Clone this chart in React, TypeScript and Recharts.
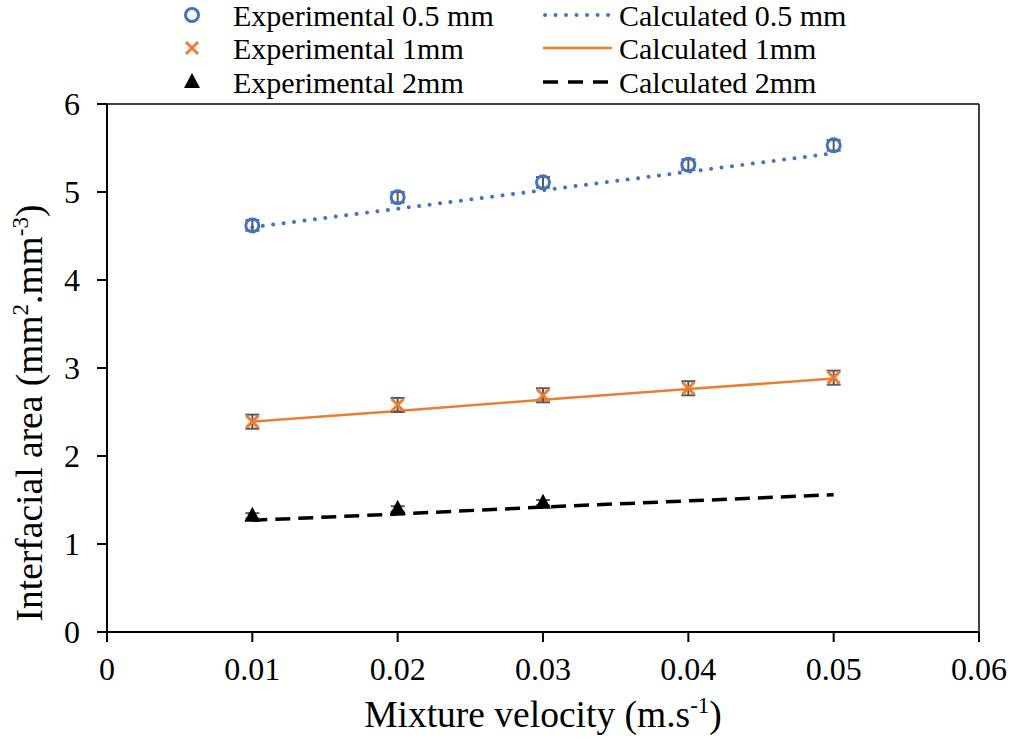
import { ComposedChart, Line, Scatter, XAxis, YAxis, ErrorBar, ReferenceLine } from "recharts";

// mixture velocity (m/s) and interfacial area (mm2/mm3) for the three channel sizes
const velocity = [0.01, 0.02, 0.03, 0.04, 0.05];
const velocity2mm = [0.01, 0.02, 0.03];

const exp05 = [4.62, 4.94, 5.11, 5.31, 5.53];
const err05 = [0.06, 0.06, 0.06, 0.06, 0.06];
const calc05 = [4.6, 4.81, 5.02, 5.23, 5.44];

const exp1 = [2.39, 2.58, 2.69, 2.77, 2.89];
const err1 = [0.08, 0.08, 0.08, 0.08, 0.08];
const calc1 = [2.39, 2.51, 2.64, 2.76, 2.88];

const exp2 = [1.32, 1.4, 1.47];
const err2 = [0.03, 0.03, 0.03];
const calc2 = [1.27, 1.34, 1.42, 1.49, 1.56];

const xTicks = [0, 0.01, 0.02, 0.03, 0.04, 0.05, 0.06];
const yTicks = [0, 1, 2, 3, 4, 5, 6];

const BLUE = "#4472C4";
const ORANGE = "#ED7D31";
const FONT = "'Liberation Serif', 'Times New Roman', serif";

const toRows = (xs: number[], ys: number[], es?: number[]) =>
  xs.map((v, i) => ({ v, a: ys[i], e: es ? es[i] : 0 }));

const exp05Data = toRows(velocity, exp05, err05);
const exp1Data = toRows(velocity, exp1, err1);
const exp2Data = toRows(velocity2mm, exp2, err2);
const calc05Data = toRows(velocity, calc05);
const calc1Data = toRows(velocity, calc1);
const calc2Data = toRows(velocity, calc2);

// marker shapes, shared by the plot and the legend
function CircleMark({ cx, cy }: any) {
  return <circle cx={cx} cy={cy} r={6.5} fill="none" stroke={BLUE} strokeWidth={3} />;
}

function CrossMark({ cx, cy }: any) {
  const s = 6;
  return (
    <g stroke={ORANGE} strokeWidth={3}>
      <line x1={cx - s} y1={cy - s} x2={cx + s} y2={cy + s} />
      <line x1={cx - s} y1={cy + s} x2={cx + s} y2={cy - s} />
    </g>
  );
}

function TriangleMark({ cx, cy }: any) {
  return <path d={`M${cx},${cy - 9} L${cx + 8},${cy + 6} L${cx - 8},${cy + 6} Z`} fill="#000" />;
}

function XTitle({ viewBox }: any) {
  const cx = viewBox ? viewBox.x + viewBox.width / 2 : 543;
  const y = viewBox ? viewBox.y + 95 : 727;
  return (
    <text x={cx} y={y} textAnchor="middle" fontFamily={FONT} fontSize={37.5} fill="#000">
      Mixture velocity (m.s
      <tspan dy={-14} fontSize={23}>-1</tspan>
      <tspan dy={14}>)</tspan>
    </text>
  );
}

function YTitle({ viewBox }: any) {
  const x = 42;
  const cy = viewBox ? viewBox.y + viewBox.height / 2 + 45 : 413;
  return (
    <text
      x={x}
      y={cy}
      transform={`rotate(-90 ${x} ${cy})`}
      textAnchor="middle"
      fontFamily={FONT}
      fontSize={37.5}
      fill="#000"
    >
      Interfacial area (mm
      <tspan dy={-14} fontSize={23}>2</tspan>
      <tspan dy={14}>.mm</tspan>
      <tspan dy={-14} fontSize={23}>-3</tspan>
      <tspan dy={14}>)</tspan>
    </text>
  );
}

const legendLeft = [
  { label: "Experimental 0.5 mm", Mark: CircleMark },
  { label: "Experimental 1mm", Mark: CrossMark },
  { label: "Experimental 2mm", Mark: TriangleMark },
];

const legendRight = [
  { label: "Calculated 0.5 mm", stroke: BLUE, dash: "0.01 10.5", width: 4, cap: "round" },
  { label: "Calculated 1mm", stroke: ORANGE, dash: undefined, width: 2.5, cap: "butt" },
  { label: "Calculated 2mm", stroke: "#000", dash: "15 10", width: 3.5, cap: "butt" },
];

const legendRowsY = [15, 48, 82];

function ChartLegend() {
  return (
    <svg width={1011} height={100} style={{ position: "absolute", left: 0, top: 0 }}>
      {legendLeft.map(({ label, Mark }, i) => (
        <g key={label}>
          <Mark cx={192} cy={legendRowsY[i]} />
          <text x={233} y={legendRowsY[i]} dy="0.35em" fontFamily={FONT} fontSize={30} fill="#000">
            {label}
          </text>
        </g>
      ))}
      {legendRight.map((item, i) => (
        <g key={item.label}>
          <line
            x1={item.cap === "round" ? 545 : 543}
            x2={612}
            y1={legendRowsY[i]}
            y2={legendRowsY[i]}
            stroke={item.stroke}
            strokeWidth={item.width}
            strokeDasharray={item.dash}
            strokeLinecap={item.cap as any}
          />
          <text x={619} y={legendRowsY[i]} dy="0.35em" fontFamily={FONT} fontSize={30} fill="#000">
            {item.label}
          </text>
        </g>
      ))}
    </svg>
  );
}

const tickStyle = { fill: "#000", fontSize: 32, fontFamily: FONT };

export default function App() {
  return (
    <div style={{ position: "absolute", left: 0, top: 0, width: 1011, height: 742, background: "#fff" }}>
      <ComposedChart width={1011} height={742} margin={{ top: 104, right: 32, bottom: 0, left: 0 }}>
        <XAxis
          type="number"
          dataKey="v"
          domain={[0, 0.06]}
          ticks={xTicks}
          tickFormatter={(v: number) => (v === 0 ? "0" : v.toFixed(2))}
          tick={tickStyle}
          tickSize={10}
          tickMargin={15}
          height={110}
          axisLine={{ stroke: "#000", strokeWidth: 2 }}
          tickLine={{ stroke: "#000", strokeWidth: 2 }}
          label={<XTitle />}
        />
        <YAxis
          type="number"
          domain={[0, 6]}
          ticks={yTicks}
          tick={tickStyle}
          tickSize={10}
          tickMargin={17}
          width={107}
          axisLine={{ stroke: "#000", strokeWidth: 2 }}
          tickLine={{ stroke: "#000", strokeWidth: 2 }}
          label={<YTitle />}
        />
        <ReferenceLine y={6} stroke="#000" strokeWidth={1.5} />
        <ReferenceLine x={0.06} stroke="#000" strokeWidth={1.5} />

        <Line
          data={calc05Data}
          dataKey="a"
          stroke={BLUE}
          strokeWidth={4}
          strokeDasharray="0.01 10.5"
          strokeLinecap="round"
          dot={false}
          activeDot={false}
          isAnimationActive={false}
        />
        <Line
          data={calc1Data}
          dataKey="a"
          stroke={ORANGE}
          strokeWidth={2.5}
          dot={false}
          activeDot={false}
          isAnimationActive={false}
        />
        <Line
          data={calc2Data}
          dataKey="a"
          stroke="#000"
          strokeWidth={3.5}
          strokeDasharray="15 8"
          dot={false}
          activeDot={false}
          isAnimationActive={false}
        />

        <Scatter data={exp05Data} dataKey="a" shape={CircleMark} isAnimationActive={false}>
          <ErrorBar dataKey="e" direction="y" width={7} stroke="#595959" strokeWidth={2} />
        </Scatter>
        <Scatter data={exp1Data} dataKey="a" shape={CrossMark} isAnimationActive={false}>
          <ErrorBar dataKey="e" direction="y" width={7} stroke="#595959" strokeWidth={2} />
        </Scatter>
        <Scatter data={exp2Data} dataKey="a" shape={TriangleMark} isAnimationActive={false}>
          <ErrorBar dataKey="e" direction="y" width={7} stroke="#595959" strokeWidth={2} />
        </Scatter>
      </ComposedChart>
      <ChartLegend />
    </div>
  );
}
